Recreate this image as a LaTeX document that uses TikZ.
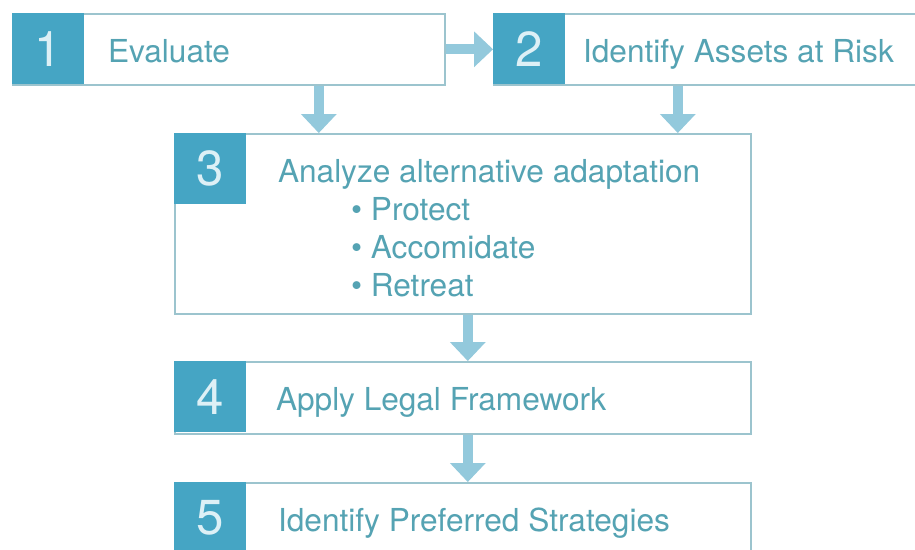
\documentclass[tikz,border=0pt]{standalone}
\usepackage{fontspec}
\setmainfont{TeX Gyre Heros}
\usetikzlibrary{arrows.meta,positioning}
\newlength\px
\setlength\px{0.02cm}
\definecolor{stepblue}{HTML}{45A5C4}
\definecolor{steptxt}{HTML}{55A3B3}
\definecolor{stepline}{HTML}{9CC4CE}
\definecolor{flowblue}{HTML}{93C9DC}
\definecolor{numwhite}{HTML}{DDF0F6}
\tikzset{stepframe/.style={draw=stepline, line width=0.9pt, fill=white, inner sep=0pt, anchor=north west, minimum width=576\px, minimum height=72\px},
         stepsquare/.style={fill=stepblue, inner sep=0pt, anchor=north west, minimum width=72\px, minimum height=71\px, text=numwhite, font=\fontsize{28}{28}\selectfont},
         steptext/.style={anchor=base west, inner sep=0pt, text=steptxt, font=\fontsize{18}{22}\selectfont},
         flow/.style={draw=flowblue, line width=5.7pt, -{Triangle[width=20.4pt,length=10.8pt,line width=0pt]}}}

\begin{document}
\begin{tikzpicture}[x=\px,y=-\px]
   \useasboundingbox (0,0) rectangle (915,550);
   \clip (0,0) rectangle (915,550);
   % top row
   \node[stepframe,minimum width=432\px,minimum height=71\px] (f1) at ( 12, 13) {};
   \node[stepframe,minimum width=432\px,minimum height=71\px] (f2) at (493, 13) {};
   \node[stepsquare] (s1) at ( 12, 13) {1};
   \node[stepsquare] (s2) at (493, 13) {2};
   \node[steptext] (t1) at ([xshift=23\px,yshift=-13.5\px]s1.east) {Evaluate};
   \node[steptext] (t2) at ([xshift=17\px,yshift=-13.5\px]s2.east) {Identify Assets at Risk};
   % the three wide steps
   \node[stepframe,minimum height=180\px] (f3) at (174,133) {};
   \node[stepframe] (f4) at (174,361) {};
   \node[stepframe] (f5) at (174,482) {};
   \node[stepsquare] (s3) at (174,133) {3};
   \node[stepsquare] (s4) at (174,361) {4};
   \node[stepsquare] (s5) at (174,482) {5};
   \node[steptext] (t3) at ([xshift=31\px,yshift=-13.5\px]s3.east) {Analyze alternative adaptation};
   \node[steptext] (o1) at ([xshift=73\px,yshift=-38\px]t3.base west) {\textbullet\ Protect};
   \node[steptext] (o2) at ([yshift=-38\px]o1.base west) {\textbullet\ Accomidate};
   \node[steptext] (o3) at ([yshift=-38\px]o2.base west) {\textbullet\ Retreat};
   \node[steptext] (t4) at ([xshift=29\px,yshift=-13.5\px]s4.east) {Apply Legal Framework};
   \node[steptext] (t5) at ([xshift=31\px,yshift=-13.5\px]s5.east) {Identify Preferred Strategies};
   % arrows
   \draw[flow] (f1.east) -- (f2.west);
   \draw[flow] ([xshift=90\px]f1.south) -- ([xshift=90\px]f1.south |- f3.north);
   \draw[flow] ([xshift=-32\px]f2.south) -- ([xshift=-32\px]f2.south |- f3.north);
   \draw[flow] ([xshift=5\px]f3.south) -- ([xshift=5\px]f4.north);
   \draw[flow] ([xshift=5\px]f4.south) -- ([xshift=5\px]f5.north);
\end{tikzpicture}
\end{document}
